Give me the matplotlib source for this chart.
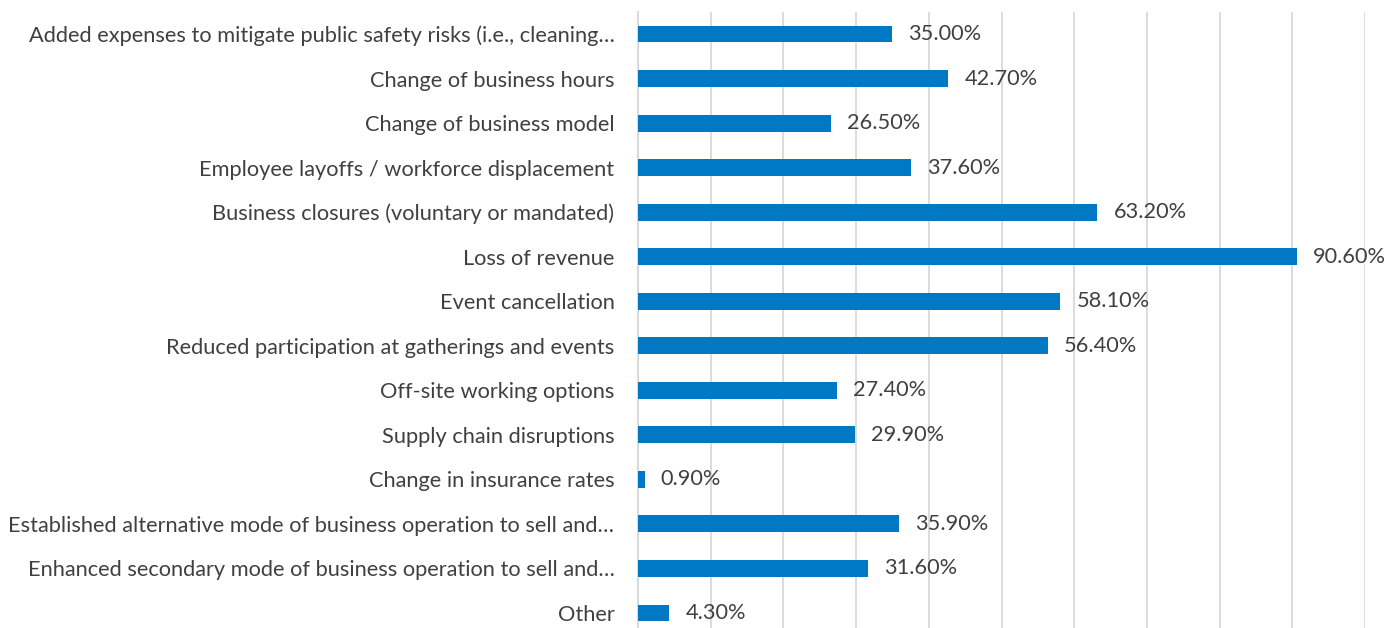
import matplotlib.pyplot as plt

categories = [
    "Added expenses to mitigate public safety risks (i.e., cleaning\u2026",
    "Change of business hours",
    "Change of business model",
    "Employee layoffs / workforce displacement",
    "Business closures (voluntary or mandated)",
    "Loss of revenue",
    "Event cancellation",
    "Reduced participation at gatherings and events",
    "Off-site working options",
    "Supply chain disruptions",
    "Change in insurance rates",
    "Established alternative mode of business operation to sell and\u2026",
    "Enhanced secondary mode of business operation to sell and\u2026",
    "Other",
]
values = [35.0, 42.7, 26.5, 37.6, 63.2, 90.6, 58.1, 56.4, 27.4, 29.9, 0.9, 35.9, 31.6, 4.3]

plt.rcParams['font.family'] = ['Lato', 'DejaVu Sans']
text_color = '#404040'
fs = 15.7

W, H = 1398, 628
fig = plt.figure(figsize=(W / 100, H / 100), dpi=100)
left, right, top, bottom = 638, 1365, 11.75, 635.25
ax = fig.add_axes([left / W, (H - bottom) / H, (right - left) / W, (bottom - top) / H])

y = list(range(len(categories)))
ax.barh(y, values, height=0.38, color='#0078C4', zorder=3)
for yi, v in zip(y, values):
    ax.text(v + 2.2, yi, f"{v:.2f}%", va='center', ha='left', fontsize=fs, color=text_color)

ax.set_xlim(0, 100)
ax.set_ylim(len(categories) - 0.5, -0.5)
ax.set_xticks(range(0, 101, 10))
ax.set_xticklabels([])
ax.grid(axis='x', color='#d9d9d9', linewidth=1.3, zorder=0)
ax.set_yticks(y)
ax.set_yticklabels(categories, fontsize=fs, color=text_color)
ax.tick_params(axis='both', length=0, pad=17)
for s in ['top', 'right', 'bottom']:
    ax.spines[s].set_visible(False)
ax.spines['left'].set_color('#d9d9d9')
ax.spines['left'].set_linewidth(1.3)

fig.savefig('out.png', dpi=100)
